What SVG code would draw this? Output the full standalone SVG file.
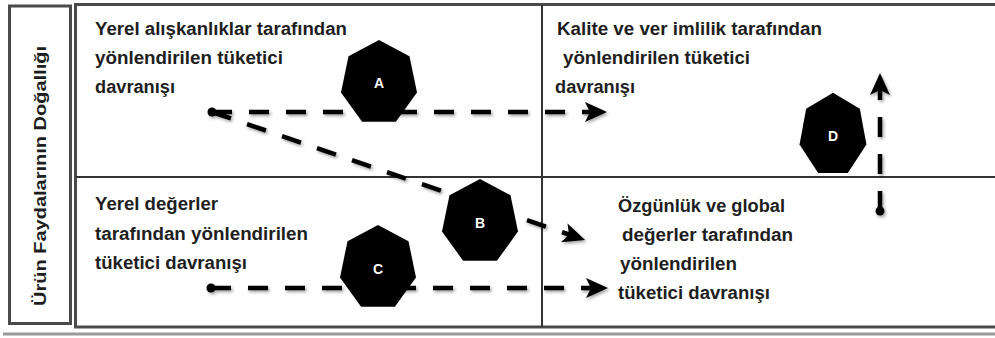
<svg xmlns="http://www.w3.org/2000/svg" width="995" height="338" viewBox="0 0 995 338">
  <style>
    .frame { fill: none; stroke: #4a4a4a; stroke-width: 3; }
    .divider { fill: none; stroke: #333; stroke-width: 2; }
    .txt { font-family: "Liberation Sans", Arial, sans-serif; font-weight: bold; font-size: 18px; fill: #1e1e1e; }
    .axis { font-family: "Liberation Sans", Arial, sans-serif; font-weight: bold; font-size: 16px; fill: #1e1e1e; }
    .tag { font-family: "Liberation Sans", Arial, sans-serif; font-weight: bold; font-size: 14px; fill: #ffffff; text-anchor: middle; }
    .flow { fill: none; stroke: #000; stroke-width: 4.5; stroke-dasharray: 20 17; }
    .dot { fill: #000; }
    .hept { fill: #000; }
  </style>
  <defs>
    <!-- regular heptagon, vertex up, centred on the origin -->
    <polygon id="heptagon" points="0,-43 30.5,-26.8 38,9.6 16.9,38.7 -16.9,38.7 -38,9.6 -30.5,-26.8"/>
    <!-- barbed arrowhead, notch at the path end -->
    <marker id="barb" markerUnits="userSpaceOnUse" viewBox="-6 -11 24 22" markerWidth="24" markerHeight="22" refX="0" refY="0" orient="auto">
      <path d="M17,0 L-5,-10 L0,0 L-5,10 Z" fill="#000"/>
    </marker>
    <filter id="soft" x="-10%" y="-30%" width="120%" height="160%">
      <feDropShadow dx="1.5" dy="2" stdDeviation="1.5" flood-color="#000" flood-opacity="0.35"/>
    </filter>
  </defs>

  <!-- axis label box -->
  <g id="axis-label">
    <rect class="frame" x="9.5" y="6" width="61" height="317.5"/>
    <text class="axis" transform="translate(46,176) rotate(-90)" text-anchor="middle" textLength="260" lengthAdjust="spacingAndGlyphs">Ürün Faydalarının Doğallığı</text>
  </g>

  <!-- matrix frame -->
  <g id="matrix">
    <path class="frame" d="M995,4.5 H75.5 V327 H995"/>
    <line x1="3" y1="334" x2="995" y2="334" stroke="#9a9a9a" stroke-width="3"/>
    <line class="divider" x1="76" y1="177" x2="995" y2="177"/>
    <line class="divider" x1="542" y1="5" x2="542" y2="327"/>
  </g>

  <!-- quadrant captions -->
  <g id="q-top-left">
    <text class="txt" x="95" y="35" textLength="252" lengthAdjust="spacingAndGlyphs">Yerel alışkanlıklar tarafından</text>
    <text class="txt" x="95" y="64" textLength="188" lengthAdjust="spacingAndGlyphs">yönlendirilen tüketici</text>
    <text class="txt" x="95" y="93" textLength="80" lengthAdjust="spacingAndGlyphs">davranışı</text>
  </g>
  <g id="q-top-right">
    <text class="txt" x="557" y="35" textLength="265" lengthAdjust="spacingAndGlyphs">Kalite ve ver imlilik tarafından</text>
    <text class="txt" x="563" y="64" textLength="187" lengthAdjust="spacingAndGlyphs">yönlendirilen tüketici</text>
    <text class="txt" x="555" y="93" textLength="80" lengthAdjust="spacingAndGlyphs">davranışı</text>
  </g>
  <g id="q-bottom-left">
    <text class="txt" x="95" y="210" textLength="123" lengthAdjust="spacingAndGlyphs">Yerel değerler</text>
    <text class="txt" x="95" y="240" textLength="213" lengthAdjust="spacingAndGlyphs">tarafından yönlendirilen</text>
    <text class="txt" x="95" y="269" textLength="152" lengthAdjust="spacingAndGlyphs">tüketici davranışı</text>
  </g>
  <g id="q-bottom-right">
    <text class="txt" x="618" y="212" textLength="167" lengthAdjust="spacingAndGlyphs">Özgünlük ve global</text>
    <text class="txt" x="622" y="241" textLength="171" lengthAdjust="spacingAndGlyphs">değerler tarafından</text>
    <text class="txt" x="620" y="270" textLength="117" lengthAdjust="spacingAndGlyphs">yönlendirilen</text>
    <text class="txt" x="618" y="299" textLength="152" lengthAdjust="spacingAndGlyphs">tüketici davranışı</text>
  </g>

  <!-- movement paths -->
  <g id="connectors" filter="url(#soft)">
    <path class="flow" d="M212,112 H590" marker-end="url(#barb)"/>
    <path class="flow" d="M212,112 L569,234.5" marker-end="url(#barb)"/>
    <path class="flow" d="M211,288 H591" marker-end="url(#barb)"/>
    <path class="flow" d="M880,211 V90" marker-end="url(#barb)"/>
    <circle class="dot" cx="212" cy="112" r="4.5"/>
    <circle class="dot" cx="211" cy="288" r="4.5"/>
    <circle class="dot" cx="880" cy="211" r="4.5"/>
  </g>

  <!-- strategy markers -->
  <g id="node-A">
    <use href="#heptagon" class="hept" transform="translate(379,83)"/>
    <text class="tag" x="379" y="88">A</text>
  </g>
  <g id="node-B">
    <use href="#heptagon" class="hept" transform="translate(480,222)"/>
    <text class="tag" x="480" y="228">B</text>
  </g>
  <g id="node-C">
    <use href="#heptagon" class="hept" transform="translate(378,268)"/>
    <text class="tag" x="378" y="274">C</text>
  </g>
  <g id="node-D">
    <use href="#heptagon" class="hept" transform="translate(833,135) scale(0.88,0.98)"/>
    <text class="tag" x="833" y="141">D</text>
  </g>
</svg>
